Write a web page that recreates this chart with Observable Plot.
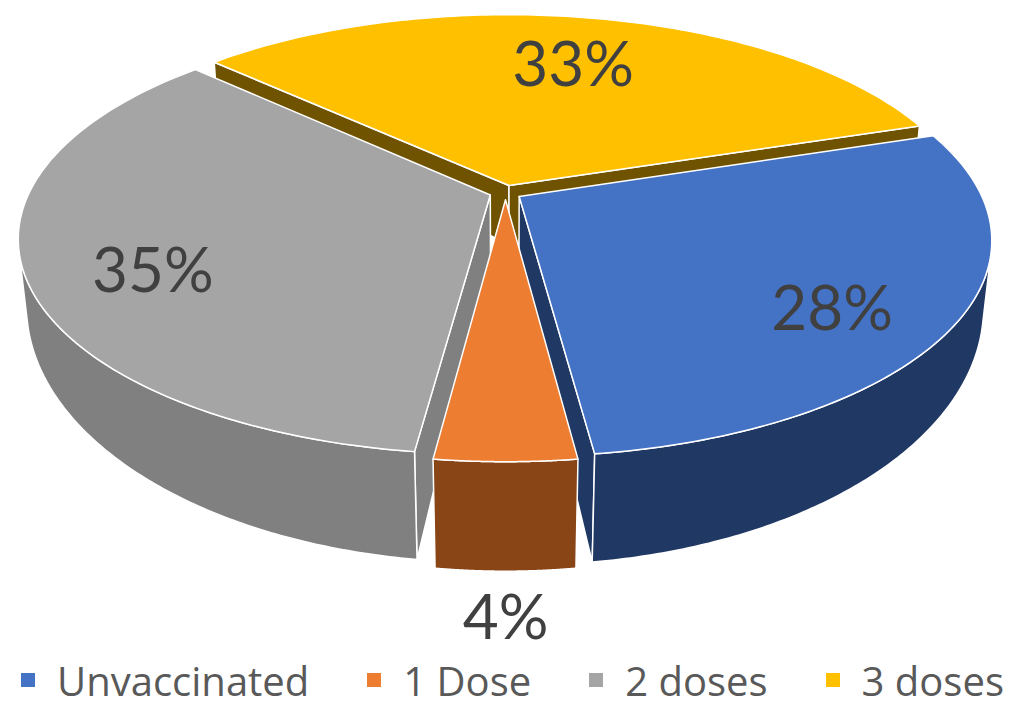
<!DOCTYPE html>
<html><head><meta charset="utf-8">
<script src="https://cdn.jsdelivr.net/npm/d3@7"></script>
<script src="https://cdn.jsdelivr.net/npm/@observablehq/plot@0.6"></script>
<style>
body{margin:0;background:#fff;font-family:Lato,"Open Sans",sans-serif;}
#legend{display:flex;justify-content:center;align-items:center;gap:58px;height:40px;font-family:"Open Sans",Lato,sans-serif;font-size:40px;color:#595959;}
.item{display:flex;align-items:center;gap:22px;}
.sw{width:14px;height:14px;}
</style></head><body>
<div id="chart"></div><div id="legend"></div>
<script>
// ---- data ----
const categories = ["Unvaccinated", "1 Dose", "2 doses", "3 doses"];
const values = [28, 4, 35, 33];
const labels = ["28%", "4%", "35%", "33%"];
const topColors = ["#4472C4", "#ED7D31", "#A5A5A5", "#FFC000"];
const sideColors = ["#203864", "#8A4517", "#808080", "#705300"];

// ---- 3D pie geometry (perspective) ----
const W = 1025, H = 660;
const CX = 505, CY = 192, S = 461;
const sinA = 0.449, cosA = Math.sqrt(1 - sinA * sinA), F = 4.53;
const EXPLODE = 0.035;
const START = 72 * Math.PI / 180;
const hAt = Y => 0.15 + 0.08 * Y;
const Yt = 1 / (F * cosA);

function proj(X, Y, Z) {
  const w = Y * cosA + Z * sinA;
  const v = -Y * sinA + Z * cosA;
  const k = F / (F - w);
  return {x: k * X, y: -k * v};
}

const arcs = d3.pie().sort(null).startAngle(START).endAngle(START + 2 * Math.PI)(values);

const walls = [], tops = [];
const slices = arcs.map((a, i) => {
  const mid = (a.startAngle + a.endAngle) / 2;
  return {i, a0: a.startAngle, a1: a.endAngle, mid,
          ox: EXPLODE * Math.sin(mid), oy: -EXPLODE * Math.cos(mid)};
});

function rim(s, t, z) { // z: 0 top, 1 bottom
  const X = s.ox + Math.sin(t), Y = s.oy - Math.cos(t);
  return proj(X, Y, z ? -hAt(Y) : 0);
}
function ctr(s, z) {
  return proj(s.ox, s.oy, z ? -hAt(s.oy) : 0);
}
function push(arr, id, fill, pts) {
  pts.push(pts[0]);
  pts.forEach(p => arr.push({id, fill, x: p.x, y: p.y}));
}
const N = 120;
const order = [...slices].sort((p, q) => p.oy - q.oy);
for (const s of order) {
  const Fc = F * cosA;
  if (s.ox * Math.cos(s.a0) - (Fc - s.oy) * Math.sin(s.a0) > 0) {
    push(walls, `c0-${s.i}`, sideColors[s.i], [ctr(s, 0), rim(s, s.a0, 0), rim(s, s.a0, 1), ctr(s, 1)]);
  }
  if (-s.ox * Math.cos(s.a1) + (Fc - s.oy) * Math.sin(s.a1) > 0) {
    push(walls, `c1-${s.i}`, sideColors[s.i], [ctr(s, 0), rim(s, s.a1, 0), rim(s, s.a1, 1), ctr(s, 1)]);
  }
  const v0 = Math.acos(-Yt), v1 = 2 * Math.PI - v0;
  for (const shift of [0, 2 * Math.PI]) {
    const t0 = Math.max(s.a0, v0 + shift), t1 = Math.min(s.a1, v1 + shift);
    if (t1 > t0) {
      const ts = d3.range(N + 1).map(j => t0 + (t1 - t0) * j / N);
      const pts = ts.map(t => rim(s, t, 0)).concat(ts.slice().reverse().map(t => rim(s, t, 1)));
      push(walls, `w-${s.i}-${shift}`, sideColors[s.i], pts);
    }
  }
}
for (const s of order) {
  const ts = d3.range(N + 1).map(j => s.a0 + (s.a1 - s.a0) * j / N);
  push(tops, `t-${s.i}`, topColors[s.i], [ctr(s, 0), ...ts.map(t => rim(s, t, 0))]);
}

// labels
const total = d3.sum(values);
const inner = [], outer = [];
for (const s of slices) {
  if (values[s.i] / total < 0.1) {
    const p = rim(s, s.mid, 1);
    outer.push({x: p.x, y: p.y, text: labels[s.i]});
  } else {
    const r = 0.74;
    const X = s.ox + r * Math.sin(s.mid), Y = s.oy - r * Math.cos(s.mid);
    const p = proj(X, Y, -0.3 * hAt(Y));
    inner.push({x: p.x, y: p.y, text: labels[s.i]});
  }
}

const chart = Plot.plot({
  width: W, height: H, margin: 0,
  style: {fontFamily: "Lato, 'Open Sans', sans-serif", background: "white"},
  x: {domain: [-CX / S, (W - CX) / S], range: [0, W], axis: null},
  y: {domain: [-CY / S, (H - CY) / S], range: [0, H], axis: null},
  color: {type: "identity"},
  marks: [
    Plot.line(walls, {x: "x", y: "y", z: "id", fill: "fill", stroke: "white", strokeWidth: 1.5, strokeLinejoin: "round"}),
    Plot.line(tops, {x: "x", y: "y", z: "id", fill: "fill", stroke: "white", strokeWidth: 1.5, strokeLinejoin: "round"}),
    Plot.text(inner, {x: "x", y: "y", text: "text", fontSize: 62, fill: "#404040"}),
    Plot.text(outer, {x: "x", y: "y", text: "text", fontSize: 62, fill: "#404040", dy: 48})
  ]
});
document.getElementById("chart").appendChild(chart);

const legend = document.getElementById("legend");
categories.forEach((c, i) => {
  const it = document.createElement("div");
  it.className = "item";
  it.innerHTML = `<span class="sw" style="background:${topColors[i]}"></span><span>${c}</span>`;
  legend.appendChild(it);
});
</script>
</body></html>
